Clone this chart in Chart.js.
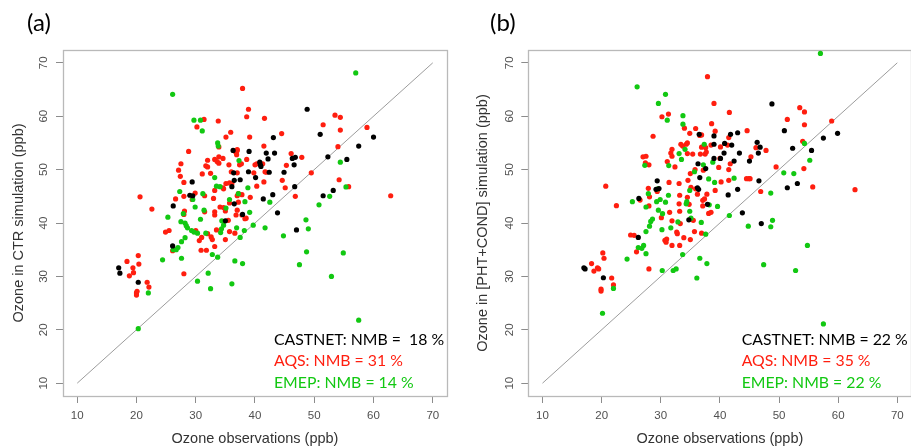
<!DOCTYPE html>
<html>
<head>
<meta charset="utf-8">
<script src="https://cdn.jsdelivr.net/npm/chart.js@4.4.1/dist/chart.umd.min.js"></script>
<style>
  html, body { margin: 0; padding: 0; background: #fff; width: 911px; height: 448px; overflow: hidden; }
  canvas { position: absolute; top: 0; }
</style>
</head>
<body>
<canvas id="chartA" width="455" height="448" style="left:0"></canvas>
<canvas id="chartB" width="460" height="448" style="left:455px"></canvas>
<script>
// Ozone observations vs simulation, [obs, sim] pairs (ppb)
const tickValues = [10, 20, 30, 40, 50, 60, 70];
const oneToOne = [[10, 10], [70, 70]];

// (a) CTR simulation
const castnetA = [[17.0,31.6],[17.2,30.6],[20.3,28.9],[26.2,43.2],[26.1,35.7],[29.4,47.7],[29.0,45.2],[29.5,45.1],[36.3,53.6],[36.4,49.4],[36.5,48.0],[37.5,48.1],[35.0,40.4],[36.5,43.6],[36.1,46.8],[37.9,41.6],[39.0,53.4],[38.9,49.6],[40.1,48.5],[40.8,51.4],[40.9,50.9],[41.0,50.6],[41.9,53.1],[42.2,52.0],[42.4,49.5],[41.4,44.5],[43.1,56.0],[43.3,53.1],[43.0,45.3],[43.8,41.9],[44.9,49.5],[46.3,52.1],[46.8,52.3],[46.6,50.9],[46.7,46.8],[47.0,38.7],[48.8,61.3],[51.0,56.6],[51.5,45.1],[52.3,52.4],[53.2,46.1],[55.5,51.9],[57.5,54.4],[60.0,56.1]];
const aqsA = [[18.4,32.8],[18.8,30.1],[19.4,31.6],[19.5,30.7],[20.3,33.9],[20.4,32.3],[20.0,26.9],[20.0,26.5],[20.1,27.2],[20.6,44.9],[21.8,28.9],[22.1,28.0],[22.6,42.6],[24.9,38.3],[25.5,38.6],[26.1,34.8],[26.6,44.5],[27.1,49.9],[27.5,51.1],[27.4,48.75],[28.0,47.6],[28.0,45.0],[28.1,42.25],[28.0,41.6],[28.0,30.5],[28.8,53.4],[29.4,44.4],[29.9,45.6],[30.0,38.6],[30.2,58.0],[30.6,36.7],[30.9,34.9],[31.0,37.3],[31.1,49.2],[31.4,59.4],[31.5,45.1],[31.7,50.7],[32.0,51.75],[32.0,50.5],[31.5,42.1],[31.8,34.9],[32.0,38.0],[32.5,49.3],[32.6,37.4],[32.8,36.9],[33.2,46.1],[33.0,44.6],[33.2,42.1],[33.2,41.5],[33.2,35.6],[33.2,51.9],[33.6,51.5],[33.5,38.7],[33.8,59.1],[33.9,54.25],[33.9,52.4],[33.9,51.2],[34.1,43.0],[34.6,52.1],[34.6,46.6],[34.7,46.4],[34.7,42.9],[35.0,42.25],[35.1,56.1],[35.1,47.4],[35.0,36.9],[35.5,40.5],[35.6,50.9],[35.7,47.5],[35.9,57.0],[36.0,49.6],[36.1,47.4],[35.7,43.75],[35.7,38.4],[36.6,53.5],[36.8,53.25],[36.9,52.8],[37.0,53.6],[37.0,53.75],[37.0,49.4],[37.0,45.1],[37.0,42.4],[36.8,41.5],[36.6,38.1],[37.2,43.9],[37.2,45.5],[37.4,50.9],[37.7,51.1],[37.9,65.2],[37.8,45.3],[37.8,41.5],[38.3,40.8],[38.5,40.9],[38.6,51.9],[38.6,59.9],[38.9,61.3],[39.1,56.1],[39.2,44.8],[39.8,49.4],[40.0,50.9],[40.3,51.1],[40.3,46.9],[41.3,51.1],[41.5,54.4],[41.6,59.6],[41.5,47.7],[41.7,49.6],[41.9,49.5],[44.5,56.75],[44.6,48.0],[45.1,46.6],[45.3,50.8],[46.1,53.0],[46.8,45.0],[47.9,52.3],[49.5,49.4],[51.5,58.4],[53.5,60.2],[54.4,59.8],[54.4,57.4],[54.0,54.3],[54.2,48.1],[55.8,46.8],[58.9,57.9],[62.9,45.1]];
const emepA = [[20.3,20.2],[22.0,26.9],[24.4,33.1],[25.3,41.1],[26.1,64.1],[26.2,35.0],[26.7,35.0],[27.0,35.4],[27.3,45.9],[27.5,40.25],[27.6,36.5],[27.6,33.4],[27.9,41.75],[28.2,40.0],[28.2,37.25],[28.4,39.5],[28.6,39.1],[29.3,38.6],[29.5,44.4],[29.7,38.3],[29.7,59.25],[29.9,43.0],[30.3,38.1],[30.3,29.1],[30.8,40.7],[30.8,59.25],[31.1,57.25],[31.2,45.5],[31.4,42.4],[31.7,38.1],[32.1,30.6],[32.5,27.7],[32.8,34.1],[33.2,48.5],[33.5,46.9],[33.7,33.6],[33.7,55.0],[33.8,54.4],[34.1,46.8],[34.2,38.2],[34.35,38.9],[34.4,40.4],[34.7,39.6],[35.1,42.8],[35.7,44.4],[36.1,28.6],[36.6,32.9],[36.9,39.1],[37.2,45.5],[37.3,51.7],[37.5,37.3],[37.9,32.4],[38.2,38.6],[38.3,44.0],[38.8,46.6],[39.1,42.0],[39.7,39.6],[41.7,39.1],[42.5,43.9],[44.8,37.6],[47.5,32.2],[48.6,40.6],[48.7,34.6],[49.0,38.9],[50.8,43.4],[52.6,45.0],[52.9,30.0],[54.4,51.4],[54.9,34.4],[55.35,46.75],[57.0,68.1],[57.5,21.8]];

// (b) PHT+COND simulation
const castnetB = [[17.0,31.6],[17.2,31.4],[20.3,29.75],[26.3,44.6],[26.2,37.3],[29.4,47.9],[29.2,46.3],[29.7,46.45],[36.5,56.6],[36.3,51.1],[36.6,48.5],[37.6,50.2],[34.75,40.6],[36.4,46.3],[36.2,46.6],[37.9,43.5],[39.0,56.3],[39.0,52.1],[40.1,52.1],[40.8,54.9],[40.7,53.1],[41.8,56.6],[42.0,54.6],[42.4,51.6],[41.4,45.25],[43.0,56.9],[43.3,53.1],[43.0,46.3],[43.8,41.9],[45.0,51.6],[46.3,55.1],[46.8,54.2],[46.5,53.1],[46.6,47.9],[47.0,39.9],[48.8,62.3],[50.9,57.3],[51.4,46.6],[52.3,54.0],[53.1,47.4],[55.5,53.6],[57.5,55.9],[59.9,56.8],[39.0,54.75]];
const aqsB = [[18.3,32.4],[18.7,31.0],[19.3,31.6],[19.5,31.4],[20.2,34.4],[20.4,33.4],[19.9,27.25],[19.9,27.6],[20.7,46.9],[21.7,29.7],[22.0,28.4],[22.5,43.25],[24.9,37.75],[25.5,37.7],[25.9,34.6],[26.5,44.3],[27.0,52.4],[27.5,52.5],[27.4,51.25],[28.0,50.9],[27.9,46.5],[28.1,44.9],[28.0,43.2],[28.0,31.4],[28.7,56.25],[29.4,45.9],[30.2,59.9],[30.1,41.0],[30.7,36.75],[30.9,36.4],[31.0,37.0],[31.1,51.5],[31.3,60.4],[31.4,47.6],[31.7,53.1],[31.9,53.8],[31.9,52.5],[31.5,42.0],[31.9,35.8],[31.9,40.4],[32.4,50.5],[32.7,38.3],[32.8,38.0],[33.1,47.4],[33.2,45.2],[33.1,43.6],[33.2,42.2],[33.2,35.8],[33.4,54.75],[33.7,54.4],[33.3,39.9],[33.9,37.25],[34.0,57.75],[34.3,54.75],[34.5,55.0],[34.5,53.0],[34.6,48.0],[34.5,44.8],[34.8,43.5],[34.9,56.8],[35.0,49.25],[35.1,46.7],[35.0,36.9],[35.5,40.5],[35.4,52.9],[35.7,38.4],[35.9,57.7],[35.8,50.0],[35.9,46.4],[36.2,45.4],[36.6,56.4],[36.9,56.5],[36.7,52.9],[36.9,54.2],[37.1,43.2],[37.1,44.25],[37.2,49.9],[37.4,44.5],[36.9,38.1],[37.5,52.9],[37.7,53.3],[37.6,54.1],[37.9,67.4],[37.8,45.4],[38.1,41.8],[38.5,42.0],[38.5,54.6],[38.6,58.6],[39.0,62.4],[39.2,57.2],[39.2,46.1],[39.8,50.4],[40.0,52.1],[40.1,54.25],[40.2,47.7],[41.3,54.6],[41.5,56.0],[41.6,60.7],[41.5,48.0],[41.5,50.0],[41.75,51.1],[44.6,57.3],[44.5,48.3],[44.9,48.3],[45.1,48.3],[45.25,52.4],[46.1,54.1],[46.9,45.9],[47.8,53.6],[49.5,50.5],[51.4,59.4],[53.5,61.6],[54.3,60.8],[54.3,58.4],[54.0,55.3],[54.2,50.2],[55.7,46.75],[58.9,59.1],[62.85,46.25]];
const emepB = [[20.15,23.1],[22.0,27.75],[24.3,33.25],[25.2,44.0],[26.0,65.5],[26.2,35.4],[26.8,35.25],[27.1,35.8],[27.3,50.8],[27.5,43.0],[27.5,38.4],[27.5,34.25],[27.9,45.5],[28.3,40.3],[28.1,39.4],[28.6,40.75],[29.5,46.4],[29.3,44.0],[29.6,62.4],[29.6,42.4],[29.9,44.4],[30.2,38.75],[30.25,31.1],[30.3,41.75],[30.8,43.9],[30.8,64.1],[31.1,59.25],[31.3,45.2],[31.35,50.75],[31.7,39.1],[32.1,31.1],[32.6,31.4],[32.9,40.2],[33.1,53.0],[33.5,51.9],[33.7,34.1],[33.75,60.1],[33.75,58.5],[34.1,53.8],[34.3,43.6],[34.4,44.0],[34.9,42.2],[35.1,40.9],[34.9,46.1],[35.7,49.6],[36.1,29.7],[36.6,33.4],[36.85,40.1],[37.2,50.9],[37.35,54.75],[37.6,37.9],[37.8,32.4],[38.1,48.25],[38.2,43.4],[38.8,51.4],[39.1,47.6],[39.6,43.1],[41.6,41.4],[42.4,48.4],[44.8,39.4],[47.4,32.2],[48.6,45.6],[48.6,39.3],[48.9,40.5],[50.8,49.4],[52.5,49.25],[52.8,31.1],[54.3,54.9],[54.8,35.8],[55.2,51.75],[57.0,71.75],[57.5,21.1]];

const notesA = ['CASTNET: NMB =  18 %', 'AQS: NMB = 31 %', 'EMEP: NMB = 14 %'];
const notesB = ['CASTNET: NMB = 22 %', 'AQS: NMB = 35 %', 'EMEP: NMB = 22 %'];

const RED = '#ff1e0f';
const GREEN = '#12c812';
const noteColors = ['#000000', RED, GREEN];

function toPoints(pairs) {
    return pairs.map(p => ({ x: p[0], y: p[1] }));
}

// grey box round the plot area, R style
const boxPlugin = {
    id: 'plotBox',
    beforeDatasetsDraw(chart) {
        const a = chart.chartArea;
        const ctx = chart.ctx;
        ctx.save();
        ctx.strokeStyle = '#b9b9b9';
        ctx.lineWidth = 1.3;
        ctx.strokeRect(Math.round(a.left) + 0.5, Math.round(a.top) + 0.5,
            Math.round(a.right - a.left), Math.round(a.bottom - a.top));
        ctx.restore();
    }
};

// panel letter and NMB text
const textPlugin = {
    id: 'panelText',
    afterDraw(chart, args, opts) {
        const ctx = chart.ctx;
        ctx.save();
        ctx.textBaseline = 'alphabetic';
        ctx.textAlign = 'left';
        ctx.fillStyle = '#000';
        ctx.font = '24px Lato';
        ctx.fillText(opts.letter, opts.letterX, 31);
        ctx.font = '15.8px Lato';
        opts.notes.forEach((line, i) => {
            ctx.fillStyle = noteColors[i];
            ctx.fillText(line, opts.noteX, 344.5 + i * 21.5);
        });
        ctx.restore();
    }
};

function makeChart(id, castnet, aqs, emep, setup) {
    new Chart(document.getElementById(id), {
        type: 'scatter',
        data: {
            datasets: [
                { label: 'CASTNET', data: toPoints(castnet), backgroundColor: '#000', order: 1 },
                { label: 'EMEP', data: toPoints(emep), backgroundColor: GREEN, order: 2 },
                { label: 'AQS', data: toPoints(aqs), backgroundColor: RED, order: 3 },
                { type: 'line', label: '1:1', data: toPoints(oneToOne), borderColor: '#9c9c9c',
                  borderWidth: 1, pointRadius: 0, fill: false, order: 4 }
            ]
        },
        options: {
            responsive: false,
            animation: false,
            events: [],
            layout: { padding: { top: 50, right: setup.rightPad, left: 0, bottom: 0 } },
            elements: { point: { radius: 2.6, borderWidth: 0, hoverRadius: 2.6 } },
            plugins: {
                legend: { display: false },
                tooltip: { enabled: false },
                panelText: { letter: setup.letter, letterX: setup.letterX, noteX: setup.noteX, notes: setup.notes }
            },
            scales: {
                x: {
                    type: 'linear',
                    min: 7.6,
                    max: 72.4,
                    afterFit: s => { s.height = 52; },
                    afterBuildTicks: s => { s.ticks = tickValues.map(v => ({ value: v })); },
                    border: { display: false },
                    grid: { drawOnChartArea: false, drawTicks: true, tickLength: 7, color: '#8c8c8c' },
                    ticks: { autoSkip: false, maxRotation: 0, padding: 6, color: '#505050',
                             font: { family: 'Liberation Sans', size: 11.5 } },
                    title: { display: true, text: 'Ozone observations (ppb)', color: '#333',
                             padding: { top: 0, bottom: 0 }, font: { family: 'Liberation Sans', size: 14.5 } }
                },
                y: {
                    type: 'linear',
                    min: 7.6,
                    max: 72.4,
                    afterFit: s => { s.width = setup.yWidth; },
                    afterBuildTicks: s => { s.ticks = tickValues.map(v => ({ value: v })); },
                    border: { display: false },
                    grid: { drawOnChartArea: false, drawTicks: true, tickLength: 7, color: '#8c8c8c' },
                    ticks: { autoSkip: false, minRotation: 90, maxRotation: 90, crossAlign: 'center',
                             padding: 5.5, color: '#505050', font: { family: 'Liberation Sans', size: 11.5 } },
                    title: { display: true, text: setup.yTitle, color: '#333',
                             padding: { top: setup.yTitlePad, bottom: 0 }, font: { family: 'Liberation Sans', size: 14.5 } }
                }
            }
        },
        plugins: [boxPlugin, textPlugin]
    });
}

makeChart('chartA', castnetA, aqsA, emepA, {
    yTitle: 'Ozone in CTR simulation (ppb)', yWidth: 63, rightPad: 8, yTitlePad: 9.8,
    letter: '(a)', letterX: 27, noteX: 274, notes: notesA
});
makeChart('chartB', castnetB, aqsB, emepB, {
    yTitle: 'Ozone in [PHT+COND] simulation (ppb)', yWidth: 73.3, rightPad: 3.5, yTitlePad: 19.3,
    letter: '(b)', letterX: 35, noteX: 286.7, notes: notesB
});
</script>
</body>
</html>
